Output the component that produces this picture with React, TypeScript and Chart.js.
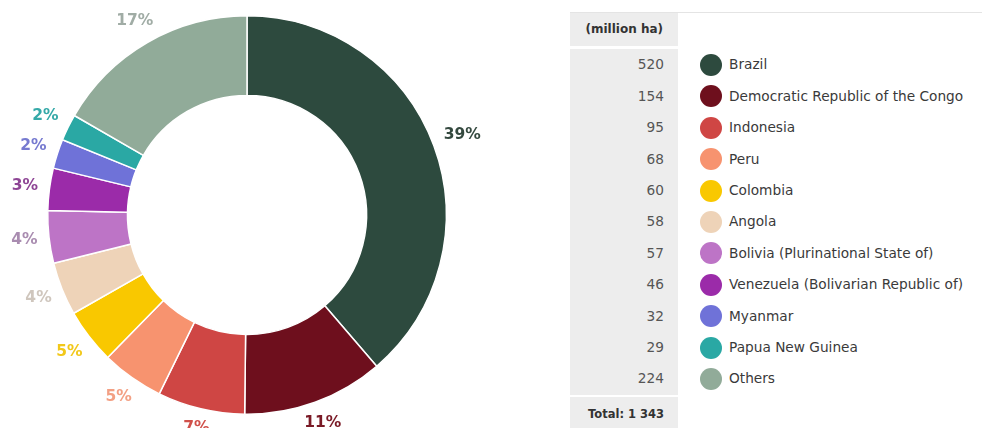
import React, { useEffect, useRef } from 'react';
import { Chart, registerables } from 'chart.js';

Chart.register(...registerables);

const countries = [
  'Brazil',
  'Democratic Republic of the Congo',
  'Indonesia',
  'Peru',
  'Colombia',
  'Angola',
  'Bolivia (Plurinational State of)',
  'Venezuela (Bolivarian Republic of)',
  'Myanmar',
  'Papua New Guinea',
  'Others',
];
const areas = [520, 154, 95, 68, 60, 58, 57, 46, 32, 29, 224];
const areaLabels = ['520', '154', '95', '68', '60', '58', '57', '46', '32', '29', '224'];
const shareLabels = ['39%', '11%', '7%', '5%', '5%', '4%', '4%', '3%', '2%', '2%', '17%'];
const colors = [
  '#2d4a3e',
  '#6e0f1d',
  '#cf4644',
  '#f7936f',
  '#f9c800',
  '#eed3b8',
  '#bd74c6',
  '#9b2ba9',
  '#6f72d8',
  '#2aa8a4',
  '#91ab99',
];
const labelColors = [
  '#34493f',
  '#7a1a26',
  '#d0504a',
  '#f3a084',
  '#f2c81a',
  '#cfc6bd',
  '#a98cb0',
  '#8e4595',
  '#767ad0',
  '#35a9a8',
  '#a0aca5',
];
const unitLabel = '(million ha)';
const totalLabel = 'Total: 1 343';

const outerLabels = {
  id: 'outerLabels',
  afterDatasetsDraw(chart: any) {
    const ctx = chart.ctx;
    const meta = chart.getDatasetMeta(0);
    ctx.save();
    ctx.font = 'bold 15.5px "DejaVu Sans"';
    ctx.textAlign = 'center';
    ctx.textBaseline = 'middle';
    meta.data.forEach((arc: any, i: number) => {
      const p = arc.getProps(['x', 'y', 'startAngle', 'endAngle', 'outerRadius'], true);
      const mid = (p.startAngle + p.endAngle) / 2;
      const text = shareLabels[i];
      const hw = ctx.measureText(text).width / 2;
      const hh = 5.5;
      const c = Math.cos(mid);
      const s = Math.sin(mid);
      const r = p.outerRadius + 11 + Math.abs(c) * hw + Math.abs(s) * hh;
      ctx.fillStyle = labelColors[i];
      ctx.fillText(text, p.x + c * r, p.y + s * r);
    });
    ctx.restore();
  },
};

const ROW_TOP = 49.3;
const ROW_H = 31.4;
const GRAY = '#ededed';
const FONT = '"DejaVu Sans", sans-serif';

export default function App() {
  const canvasRef = useRef<HTMLCanvasElement | null>(null);

  useEffect(() => {
    if (!canvasRef.current) return;
    const chart = new Chart(canvasRef.current, {
      type: 'doughnut',
      data: {
        labels: countries,
        datasets: [
          {
            data: areas,
            backgroundColor: colors,
            borderColor: '#ffffff',
            borderWidth: 1.5,
          },
        ],
      },
      options: {
        responsive: false,
        animation: false,
        cutout: '60%',
        layout: { padding: { top: 15, bottom: 25, left: 47, right: 47 } },
        plugins: {
          legend: { display: false },
          tooltip: { enabled: false },
        },
      },
      plugins: [outerLabels],
    });
    return () => chart.destroy();
  }, []);

  return (
    <div
      style={{
        position: 'fixed',
        left: 0,
        top: 0,
        width: 982,
        height: 428,
        overflow: 'hidden',
        background: '#ffffff',
        fontFamily: FONT,
      }}
    >
      <canvas
        ref={canvasRef}
        width={494}
        height={440}
        style={{ position: 'absolute', left: 0, top: 0, width: 494, height: 440 }}
      />
      <div style={{ position: 'absolute', left: 570, top: 12, width: 412, height: 1, background: '#e4e4e4' }} />
      <div
        style={{
          position: 'absolute',
          left: 570,
          top: 13,
          width: 108,
          height: 33,
          background: GRAY,
          boxSizing: 'border-box',
          paddingRight: 15,
          textAlign: 'right',
          lineHeight: '33px',
          fontSize: 12,
          fontWeight: 'bold',
          color: '#333',
        }}
      >
        {unitLabel}
      </div>
      <div
        style={{
          position: 'absolute',
          left: 570,
          top: ROW_TOP,
          width: 108,
          height: ROW_H * countries.length,
          background: GRAY,
        }}
      />
      {countries.map((name, i) => (
        <div
          key={name}
          style={{ position: 'absolute', left: 570, top: ROW_TOP + i * ROW_H, width: 412, height: ROW_H }}
        >
          <div
            style={{
              position: 'absolute',
              left: 0,
              top: 0,
              width: 108,
              height: ROW_H,
              boxSizing: 'border-box',
              paddingRight: 14,
              textAlign: 'right',
              lineHeight: ROW_H + 'px',
              fontSize: 13.7,
              color: '#555',
            }}
          >
            {areaLabels[i]}
          </div>
          <div
            style={{
              position: 'absolute',
              left: 130,
              top: ROW_H / 2 - 11,
              width: 22,
              height: 22,
              borderRadius: '50%',
              background: colors[i],
            }}
          />
          <div
            style={{
              position: 'absolute',
              left: 159,
              top: 0,
              height: ROW_H,
              lineHeight: ROW_H + 'px',
              fontSize: 13.7,
              color: '#3a3a3a',
              whiteSpace: 'nowrap',
            }}
          >
            {name}
          </div>
        </div>
      ))}
      <div
        style={{
          position: 'absolute',
          left: 570,
          top: 397,
          width: 108,
          height: 40,
          background: GRAY,
          boxSizing: 'border-box',
          paddingRight: 14,
          textAlign: 'right',
          lineHeight: '34px',
          fontSize: 11.5,
          fontWeight: 'bold',
          color: '#333',
        }}
      >
        {totalLabel}
      </div>
    </div>
  );
}
